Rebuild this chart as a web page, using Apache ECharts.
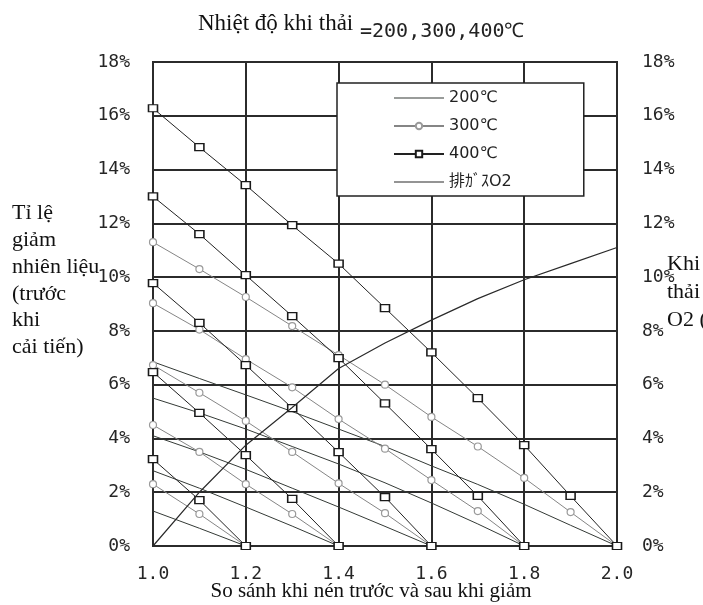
<!DOCTYPE html>
<html>
<head>
<meta charset="utf-8">
<script src="https://cdn.jsdelivr.net/npm/echarts@6/dist/echarts.min.js"></script>
<style>
  html, body { margin: 0; padding: 0; background: #ffffff; }
  #chart { width: 703px; height: 605px; }
</style>
</head>
<body>
<div id="chart"></div>
<script>
// Compression ratio (before / after reduction)
var xs = [1.0, 1.1, 1.2, 1.3, 1.4, 1.5, 1.6, 1.7, 1.8, 1.9, 2.0];
var xTicks = ['1.0', '1.2', '1.4', '1.6', '1.8', '2.0'];
var yTicks = ['0%', '2%', '4%', '6%', '8%', '10%', '12%', '14%', '16%', '18%'];

// Fuel reduction (%) – exhaust 200℃, lines ending at ratio 2.0 / 1.8 / 1.6 / 1.4 / 1.2
var t200_20 = [6.85, 6.23, 5.62, 5.0, 4.35, 3.7, 2.98, 2.29, 1.55, 0.77, 0];
var t200_18 = [5.5, 4.95, 4.35, 3.7, 3.05, 2.35, 1.6, 0.82, 0];
var t200_16 = [4.1, 3.5, 2.85, 2.15, 1.45, 0.73, 0];
var t200_14 = [2.8, 2.15, 1.45, 0.74, 0];
var t200_12 = [1.3, 0.66, 0];

// Fuel reduction (%) – exhaust 300℃
var t300_20 = [11.3, 10.3, 9.26, 8.18, 7.1, 6.0, 4.8, 3.7, 2.53, 1.26, 0];
var t300_18 = [9.03, 8.05, 6.95, 5.9, 4.72, 3.62, 2.45, 1.3, 0];
var t300_16 = [6.73, 5.7, 4.65, 3.5, 2.33, 1.22, 0];
var t300_14 = [4.5, 3.5, 2.3, 1.19, 0];
var t300_12 = [2.3, 1.19, 0];

// Fuel reduction (%) – exhaust 400℃
var t400_20 = [16.28, 14.83, 13.42, 11.93, 10.5, 8.85, 7.2, 5.5, 3.75, 1.86, 0];
var t400_18 = [13.0, 11.6, 10.07, 8.55, 6.99, 5.3, 3.6, 1.86, 0];
var t400_16 = [9.78, 8.3, 6.73, 5.13, 3.49, 1.82, 0];
var t400_14 = [6.47, 4.95, 3.38, 1.75, 0];
var t400_12 = [3.23, 1.71, 0];

// Exhaust gas O2 (%) – right axis
var o2 = [0, 2.0, 3.75, 5.15, 6.6, 7.55, 8.4, 9.2, 9.9, 10.5, 11.1];

var NAME200 = '200℃', NAME300 = '300℃', NAME400 = '400℃', NAMEO2 = '排ｶﾞｽO2';

// plain horizontal stroke used as legend icon for the marker-less lines
var LINE_ICON = 'path://M0,0 L50,0 L50,1.2 L0,1.2 Z';

function pairs(vals) {
  return vals.map(function (v, i) { return [xs[i], v]; });
}

function plainLine(vals) {
  return {
    type: 'line', name: NAME200, data: pairs(vals), symbol: 'none',
    lineStyle: { color: '#343a36', width: 1 }, itemStyle: { color: '#343a36' },
    z: 2
  };
}
function circleLine(vals) {
  return {
    type: 'line', name: NAME300, data: pairs(vals), symbol: 'circle', symbolSize: 7,
    showAllSymbol: true,
    lineStyle: { color: '#858585', width: 1 },
    itemStyle: { color: '#ffffff', borderColor: '#9a9a9a', borderWidth: 1.2 },
    z: 3
  };
}
function squareLine(vals) {
  return {
    type: 'line', name: NAME400, data: pairs(vals), symbol: 'rect', symbolSize: [9, 7],
    showAllSymbol: true,
    lineStyle: { color: '#222222', width: 1 },
    itemStyle: { color: '#ffffff', borderColor: '#1a1a1a', borderWidth: 1.4 },
    z: 4
  };
}

var labelFont = { fontFamily: 'DejaVu Sans Mono', fontSize: 18, color: '#262626' };
var gridLine = { show: true, lineStyle: { color: '#2b2b2b', width: 2 } };

var series = [
  plainLine(t200_20), plainLine(t200_18), plainLine(t200_16), plainLine(t200_14), plainLine(t200_12),
  circleLine(t300_20), circleLine(t300_18), circleLine(t300_16), circleLine(t300_14), circleLine(t300_12),
  squareLine(t400_20), squareLine(t400_18), squareLine(t400_16), squareLine(t400_14), squareLine(t400_12),
  {
    type: 'line', name: NAMEO2, data: pairs(o2), yAxisIndex: 1, symbol: 'none',
    lineStyle: { color: '#2a2a2a', width: 1.2 }, itemStyle: { color: '#2a2a2a' }, z: 5
  }
];

var chart = echarts.init(document.getElementById('chart'), null, { renderer: 'canvas' });
chart.setOption({
  animation: false,
  backgroundColor: '#ffffff',
  grid: {
    left: 153, right: 86, top: 62, bottom: 59,
    outerBoundsMode: 'none', containLabel: false,
    show: true, borderColor: '#2b2b2b', borderWidth: 2, backgroundColor: 'transparent'
  },
  legend: {
    orient: 'vertical',
    left: 337, top: 83,
    padding: [7, 72, 6, 56],
    backgroundColor: '#ffffff',
    borderColor: '#222222', borderWidth: 1.5,
    itemWidth: 50, itemHeight: 8, itemGap: 12,
    symbolKeepAspect: true,
    textStyle: { fontFamily: 'DejaVu Sans, Noto Sans CJK JP', fontSize: 16, color: '#222' },
    data: [
      { name: NAME200, icon: LINE_ICON },
      { name: NAME300 },
      { name: NAME400 },
      { name: NAMEO2, icon: LINE_ICON }
    ]
  },
  xAxis: {
    type: 'value', min: 1.0, max: 2.0, interval: 0.2,
    name: 'So sánh khi nén trước và sau khi giảm',
    nameLocation: 'middle', nameGap: 35, nameMoveOverlap: false,
    nameTextStyle: { fontFamily: 'Liberation Serif', fontSize: 21, color: '#111', padding: [0, 28, 0, 0] },
    axisLine: { show: true, lineStyle: { color: '#2b2b2b', width: 2 } },
    axisTick: { show: false },
    axisLabel: Object.assign({ margin: 19, formatter: function (v) {
      var s = v.toFixed(1);
      return xTicks.indexOf(s) >= 0 ? s : '';
    } }, labelFont),
    splitLine: gridLine
  },
  yAxis: [
    {
      type: 'value', min: 0, max: 18, interval: 2, position: 'left',
      axisLine: { show: true, lineStyle: { color: '#2b2b2b', width: 2 } },
      axisTick: { show: false },
      axisLabel: Object.assign({ margin: 23, formatter: function (v) { return yTicks[Math.round(v / 2)]; } }, labelFont),
      splitLine: gridLine
    },
    {
      type: 'value', min: 0, max: 18, interval: 2, position: 'right',
      axisLine: { show: true, lineStyle: { color: '#2b2b2b', width: 2 } },
      axisTick: { show: false },
      axisLabel: Object.assign({ margin: 25, formatter: function (v) { return yTicks[Math.round(v / 2)]; } }, labelFont),
      splitLine: { show: false }
    }
  ],
  graphic: [
    { type: 'text', left: 198, top: 12,
      style: { text: 'Nhiệt độ khi thải', font: '23px "Liberation Serif"', fill: '#111' } },
    { type: 'text', left: 360, top: 22,
      style: { text: '=200,300,400℃', font: '20px "DejaVu Sans Mono"', fill: '#222' } },
    { type: 'text', left: 12, top: 200,
      style: { text: 'Tỉ lệ\ngiảm\nnhiên liệu\n(trước\nkhi\ncải tiến)', font: '22px "Liberation Serif"',
               lineHeight: 26.8, fill: '#111' } },
    { type: 'text', left: 667, top: 250,
      style: { text: 'Khi\nthải\nO2 (%)', font: '22px "Liberation Serif"', lineHeight: 28, fill: '#111' } }
  ],
  series: series
});
</script>
</body>
</html>
